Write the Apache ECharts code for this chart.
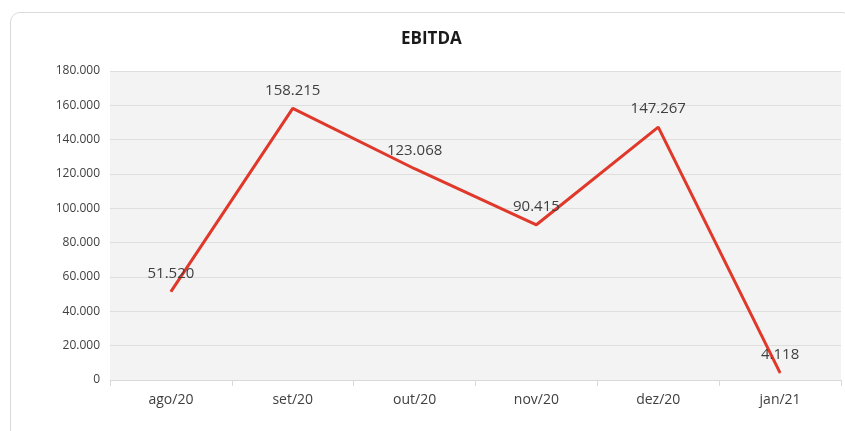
<!DOCTYPE html>
<html>
<head>
<meta charset="utf-8">
<script src="https://cdn.jsdelivr.net/npm/echarts@6/dist/echarts.min.js"></script>
<style>
html,body{margin:0;padding:0;background:#fff;}
#chart{position:absolute;left:0;top:0;width:845px;height:431px;}
#frame{position:absolute;left:10px;top:12px;width:840px;height:430px;border:1px solid #d9d9d9;border-radius:10px;pointer-events:none;}
</style>
</head>
<body>
<div id="chart"></div>
<div id="frame"></div>
<script>
const categories = ['ago/20','set/20','out/20','nov/20','dez/20','jan/21'];
const ebitda = [51520, 158215, 123068, 90415, 147267, 4118];
const yTicks = [0, 20000, 40000, 60000, 80000, 100000, 120000, 140000, 160000, 180000];

function fmt(v){
  return String(Math.round(v)).replace(/\B(?=(\d{3})+(?!\d))/g, '.');
}

const chart = echarts.init(document.getElementById('chart'));
chart.setOption({
  animation: false,
  backgroundColor: '#ffffff',
  title: {
    text: 'EBITDA',
    left: 396,
    top: 26,
    textStyle: {fontFamily: 'Open Sans', fontSize: 17, fontWeight: 'bold', color: '#1a1a1a'}
  },
  grid: {left: 110, right: 4, top: 71, bottom: 51, show: true, backgroundColor: '#f3f3f3', borderWidth: 0},
  xAxis: {
    type: 'category',
    data: categories,
    boundaryGap: true,
    axisLine: {lineStyle: {color: '#d9d9d9', width: 1}},
    axisTick: {show: true, length: 6, lineStyle: {color: '#d9d9d9'}},
    axisLabel: {fontFamily: 'Open Sans', fontSize: 14, color: '#404040', margin: 13}
  },
  yAxis: {
    type: 'value',
    min: yTicks[0],
    max: yTicks[yTicks.length - 1],
    interval: 20000,
    axisLine: {show: false},
    axisTick: {show: false},
    splitLine: {lineStyle: {color: '#dedede', width: 1}},
    axisLabel: {fontFamily: 'Open Sans', fontSize: 12, color: '#404040', margin: 10, formatter: fmt}
  },
  series: [{
    type: 'line',
    data: ebitda,
    symbol: 'circle',
    symbolSize: 1,
    showSymbol: true,
    itemStyle: {color: '#e0382a'},
    lineStyle: {color: '#e0382a', width: 3},
    label: {
      show: true,
      position: 'top',
      distance: 10,
      fontFamily: 'Open Sans',
      fontSize: 15,
      color: '#404040',
      formatter: p => fmt(p.value)
    }
  }]
});
</script>
</body>
</html>
